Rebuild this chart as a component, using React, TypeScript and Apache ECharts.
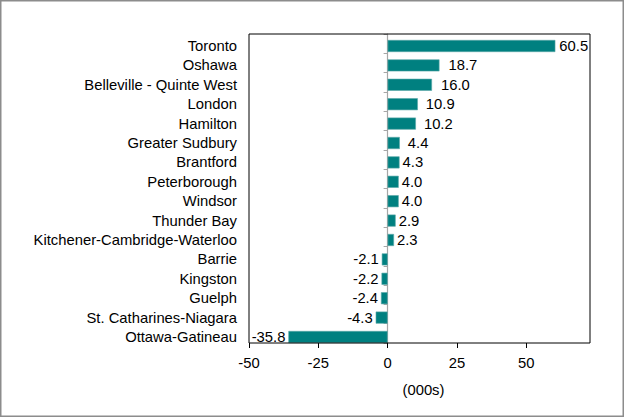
import React, { useEffect, useRef } from "react";
import * as echarts from "echarts";

const categories = [
  "Toronto",
  "Oshawa",
  "Belleville - Quinte West",
  "London",
  "Hamilton",
  "Greater Sudbury",
  "Brantford",
  "Peterborough",
  "Windsor",
  "Thunder Bay",
  "Kitchener-Cambridge-Waterloo",
  "Barrie",
  "Kingston",
  "Guelph",
  "St. Catharines-Niagara",
  "Ottawa-Gatineau",
];
const values = [60.5, 18.7, 16.0, 10.9, 10.2, 4.4, 4.3, 4.0, 4.0, 2.9, 2.3, -2.1, -2.2, -2.4, -4.3, -35.8];
const labelGaps = [4, 9, 9, 8, 8, 8, 3, 3, 3, 3, 3, 3, 3, 3, 3, 3];
const xTicks = [-50, -25, 0, 25, 50];
const axisName = "(000s)";

const FONT = "'Liberation Sans', Arial, sans-serif";
const FS = 14.8;
const X_MIN = -50;
const X_MAX = 73;
const PLOT_L = 249;
const PLOT_R = 590;

export default function App() {
  const ref = useRef<HTMLDivElement>(null);
  useEffect(() => {
    document.body.style.margin = "0";
    const chart = echarts.init(ref.current!, null, { renderer: "svg" });
    const revCats = [...categories].reverse();
    const revVals = [...values].reverse();
    const revGaps = [...labelGaps].reverse();
    const zeroX = PLOT_L + ((0 - X_MIN) / (X_MAX - X_MIN)) * (PLOT_R - PLOT_L);
    chart.setOption({
      animation: false,
      backgroundColor: "#fff",
      grid: [
        { left: PLOT_L, right: 625 - PLOT_R, top: 36.3, bottom: 71.3 },
        { left: zeroX, right: 625 - PLOT_R, top: 34, bottom: 75 },
      ],
      xAxis: [
        {
          type: "value",
          gridIndex: 0,
          min: X_MIN,
          max: X_MAX,
          interval: 25,
          offset: -3.7,
          splitLine: { show: false },
          axisLine: { show: false },
          axisTick: { show: true, length: 5, lineStyle: { color: "#000" } },
          axisLabel: {
            color: "#000",
            fontFamily: FONT,
            fontSize: FS,
            margin: 12.5,
            showMaxLabel: false,
            formatter: (v: number) => (xTicks.includes(v) ? String(v) : ""),
          },
        },
        {
          type: "value",
          gridIndex: 1,
          show: false,
          min: 0,
          max: 1,
        },
      ],
      yAxis: [
        {
          type: "category",
          gridIndex: 0,
          data: revCats,
          position: "left",
          axisLine: { show: false },
          axisTick: { show: false },
          axisLabel: { color: "#000", fontFamily: FONT, fontSize: FS, margin: 12, interval: 0 },
        },
        {
          type: "category",
          gridIndex: 1,
          data: revCats,
          position: "left",
          axisLine: { show: true, onZero: false, lineStyle: { color: "#a6a6a6", width: 1.2 } },
          axisTick: { show: true, length: 4, interval: 0, lineStyle: { color: "#a6a6a6" } },
          axisLabel: { show: false },
        },
      ],
      series: [
        {
          type: "bar",
          xAxisIndex: 0,
          yAxisIndex: 0,
          data: revVals.map((v, i) => ({
            value: v,
            label: { distance: revGaps[i], position: v >= 0 ? "right" : "left" },
          })),
          barCategoryGap: "38%",
          itemStyle: { color: "#008080", borderColor: "#5aa8a8", borderWidth: 0.6 },
          label: {
            show: true,
            color: "#000",
            fontFamily: FONT,
            fontSize: FS,
            formatter: (p: any) => Number(p.value).toFixed(1),
          },
          z: 1,
        },
      ],
      graphic: [
        {
          type: "rect",
          shape: { x: PLOT_L, y: 34, width: PLOT_R - PLOT_L, height: 343 - 34 },
          style: { fill: "none", stroke: "#000", lineWidth: 1 },
          silent: true,
          z: 10,
        },
        {
          type: "text",
          left: 425 - 22.5,
          top: 382,
          style: { text: axisName, fill: "#000", font: `${FS}px ${FONT}` },
        },
        {
          type: "rect",
          shape: { x: 0.75, y: 0.75, width: 622.5, height: 415.5 },
          style: { fill: "none", stroke: "#8c8c8c", lineWidth: 1.5 },
          silent: true,
        },
      ],
    });
    return () => chart.dispose();
  }, []);
  return <div ref={ref} style={{ width: 625, height: 418, position: "absolute", left: 0, top: 0 }} />;
}
